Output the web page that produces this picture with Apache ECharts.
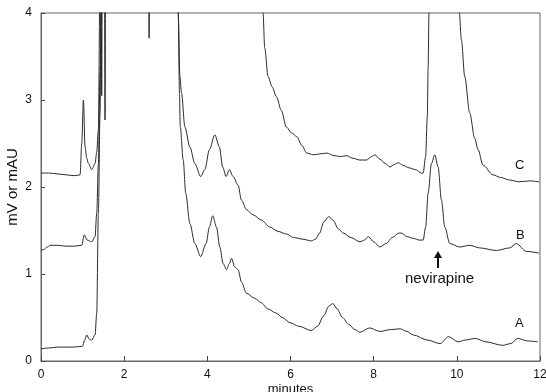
<!DOCTYPE html>
<html>
<head>
<meta charset="utf-8">
<script src="https://cdn.jsdelivr.net/npm/echarts@6/dist/echarts.min.js"></script>
<style>
html,body{margin:0;padding:0;background:#fff;}
#chart{width:546px;height:392px;}
</style>
</head>
<body>
<div id="chart"></div>
<script>
// Trace C (top)
var cX = [0, 0.2, 0.4, 0.6, 0.8, 0.94, 0.98, 1.02, 1.06, 1.1, 1.14, 1.22, 1.3, 1.34, 1.38, 1.42, 1.44, 1.46, 1.48, 1.52, 1.54, 1.56, 1.6, 2.58, 2.6, 2.62, 5.3, 5.34, 5.38, 5.46, 5.56, 5.66, 5.78, 5.9, 6.03, 6.15, 6.27, 6.39, 6.55, 6.7, 6.87, 7.05, 7.2, 7.35, 7.5, 7.67, 7.83, 7.95, 8.03, 8.15, 8.28, 8.39, 8.5, 8.59, 8.7, 8.85, 9.0, 9.15, 9.19, 9.25, 9.29, 9.31, 9.33, 9.4, 10.0, 10.06, 10.11, 10.19, 10.31, 10.43, 10.51, 10.63, 10.87, 11.05, 11.27, 11.5, 11.75, 11.98];
var cY = [2.16, 2.16, 2.15, 2.14, 2.13, 2.14, 2.5, 3.0, 2.46, 2.33, 2.27, 2.2, 2.27, 2.4, 2.66, 4.5, 6, 3.05, 6, 6, 2.77, 6, 6, 6, 3.71, 6, 6, 4.0, 3.6, 3.27, 3.15, 3.04, 2.88, 2.69, 2.62, 2.58, 2.48, 2.39, 2.37, 2.38, 2.39, 2.36, 2.35, 2.36, 2.33, 2.31, 2.31, 2.35, 2.37, 2.32, 2.27, 2.23, 2.26, 2.28, 2.25, 2.22, 2.2, 2.16, 2.16, 2.35, 2.81, 3.38, 4.0, 6, 6, 4.0, 3.69, 3.27, 2.85, 2.56, 2.43, 2.25, 2.14, 2.11, 2.08, 2.06, 2.07, 2.06];
// Trace B (middle)
var bX = [0, 0.06, 0.15, 0.22, 0.4, 0.6, 0.8, 0.98, 1.04, 1.11, 1.22, 1.3, 1.34, 1.38, 1.42, 1.5, 3.2, 3.3, 3.34, 3.38, 3.46, 3.58, 3.7, 3.84, 3.94, 4.05, 4.18, 4.29, 4.37, 4.45, 4.53, 4.62, 4.74, 4.82, 4.94, 5.1, 5.3, 5.5, 5.7, 5.9, 6.07, 6.3, 6.5, 6.6, 6.7, 6.8, 6.92, 7.02, 7.15, 7.27, 7.45, 7.67, 7.78, 7.87, 8.0, 8.15, 8.3, 8.45, 8.6, 8.67, 8.8, 8.95, 9.1, 9.19, 9.25, 9.31, 9.39, 9.47, 9.55, 9.63, 9.71, 9.83, 10.07, 10.31, 10.55, 10.95, 11.27, 11.43, 11.67, 11.98];
var bY = [1.27, 1.28, 1.31, 1.33, 1.33, 1.32, 1.32, 1.33, 1.45, 1.39, 1.37, 1.43, 1.7, 2.27, 3.3, 6, 6, 4.0, 3.27, 3.08, 2.69, 2.46, 2.27, 2.12, 2.2, 2.43, 2.6, 2.46, 2.23, 2.12, 2.2, 2.12, 2.02, 1.85, 1.74, 1.68, 1.62, 1.54, 1.49, 1.46, 1.42, 1.4, 1.38, 1.4, 1.47, 1.6, 1.66, 1.62, 1.52, 1.47, 1.42, 1.37, 1.39, 1.43, 1.37, 1.31, 1.35, 1.42, 1.47, 1.47, 1.43, 1.41, 1.39, 1.39, 1.54, 1.93, 2.27, 2.37, 2.23, 1.85, 1.54, 1.35, 1.31, 1.33, 1.3, 1.27, 1.3, 1.35, 1.26, 1.24];
// Trace A (bottom)
var aX = [0, 0.2, 0.4, 0.6, 0.8, 1.0, 1.05, 1.1, 1.16, 1.22, 1.3, 1.34, 1.38, 1.42, 1.46, 1.55, 3.2, 3.3, 3.33, 3.35, 3.42, 3.48, 3.58, 3.7, 3.84, 3.97, 4.05, 4.13, 4.22, 4.3, 4.38, 4.46, 4.53, 4.58, 4.66, 4.74, 4.82, 4.94, 5.14, 5.3, 5.45, 5.66, 5.8, 5.99, 6.2, 6.5, 6.65, 6.8, 6.92, 7.02, 7.12, 7.25, 7.4, 7.55, 7.67, 7.9, 8.15, 8.4, 8.63, 8.8, 8.95, 9.3, 9.6, 9.8, 10.03, 10.2, 10.44, 10.7, 11.1, 11.3, 11.46, 11.7, 11.95];
var aY = [0.14, 0.15, 0.16, 0.16, 0.16, 0.17, 0.24, 0.3, 0.25, 0.24, 0.3, 0.55, 1.7, 2.85, 6, 6, 6, 4.0, 3.08, 2.69, 2.31, 1.93, 1.58, 1.35, 1.2, 1.35, 1.54, 1.67, 1.54, 1.31, 1.12, 1.05, 1.12, 1.18, 1.08, 1.05, 0.91, 0.78, 0.72, 0.67, 0.6, 0.55, 0.5, 0.44, 0.4, 0.35, 0.4, 0.52, 0.63, 0.66, 0.6, 0.5, 0.42, 0.36, 0.33, 0.38, 0.34, 0.36, 0.37, 0.34, 0.3, 0.24, 0.2, 0.28, 0.22, 0.24, 0.26, 0.22, 0.18, 0.2, 0.26, 0.23, 0.22];

var xTicks = [0, 2, 4, 6, 8, 10, 12];
var yTicks = [0, 1, 2, 3, 4];
var traceNames = ['A', 'B', 'C'];
var annotationText = 'nevirapine';
var xTitle = 'minutes';
var yTitle = 'mV or mAU';

function pairs(xs, ys) { return xs.map(function (x, i) { return [x, ys[i]]; }); }

var chart = echarts.init(document.getElementById('chart'), null, {renderer: 'canvas'});
var lineStyle = {color: '#2a2a2a', width: 1};
var font = 'Liberation Sans, Arial, sans-serif';
function mkSeries(name, xs, ys) {
  return {
    name: name, type: 'line', data: pairs(xs, ys), showSymbol: false, symbol: 'none',
    smooth: 0.3, smoothMonotone: 'x', clip: true, lineStyle: lineStyle, animation: false
  };
}
chart.setOption({
  animation: false,
  grid: {left: 41, right: 6, top: 13, bottom: 31, show: true, borderColor: '#666', borderWidth: 1,
    containLabel: false, outerBoundsMode: 'none'},
  xAxis: {
    type: 'value', min: 0, max: 12, interval: 2,
    name: xTitle, nameLocation: 'middle', nameGap: 22, nameMoveOverlap: false,
    nameTextStyle: {fontFamily: font, fontSize: 13, color: '#111', verticalAlign: 'top'},
    axisLine: {show: true, lineStyle: {color: '#666'}},
    axisTick: {show: true, inside: true, length: 5, lineStyle: {color: '#444'}},
    axisLabel: {fontFamily: font, fontSize: 12, color: '#111', margin: 8,
      formatter: function (v) { return xTicks.indexOf(v) >= 0 ? String(v) : ''; }},
    splitLine: {show: false}
  },
  yAxis: {
    type: 'value', min: 0, max: 4, interval: 1,
    name: yTitle, nameLocation: 'middle', nameGap: 21, nameRotate: 90, nameMoveOverlap: false,
    nameTextStyle: {fontFamily: font, fontSize: 15, color: '#111'},
    axisLine: {show: true, lineStyle: {color: '#666'}},
    axisTick: {show: true, inside: true, length: 4, lineStyle: {color: '#444'}},
    axisLabel: {fontFamily: font, fontSize: 12, color: '#111', margin: 9,
      formatter: function (v) { return yTicks.indexOf(v) >= 0 ? String(v) : ''; }},
    splitLine: {show: false}
  },
  series: [mkSeries(traceNames[0], aX, aY), mkSeries(traceNames[1], bX, bY), mkSeries(traceNames[2], cX, cY)],
  graphic: [
    {type: 'text', left: 515, top: 159, style: {text: traceNames[2], font: '13px ' + font, fill: '#111'}},
    {type: 'text', left: 516, top: 229, style: {text: traceNames[1], font: '13px ' + font, fill: '#111'}},
    {type: 'text', left: 515, top: 317, style: {text: traceNames[0], font: '13px ' + font, fill: '#111'}},
    {type: 'text', left: 405, top: 271, style: {text: annotationText, font: '15px ' + font, fill: '#111'}},
    {type: 'line', shape: {x1: 438, y1: 256, x2: 438, y2: 268}, style: {stroke: '#111', lineWidth: 2}},
    {type: 'polygon', shape: {points: [[438, 251], [434, 258], [442, 258]]}, style: {fill: '#111'}}
  ]
});
</script>
</body>
</html>
